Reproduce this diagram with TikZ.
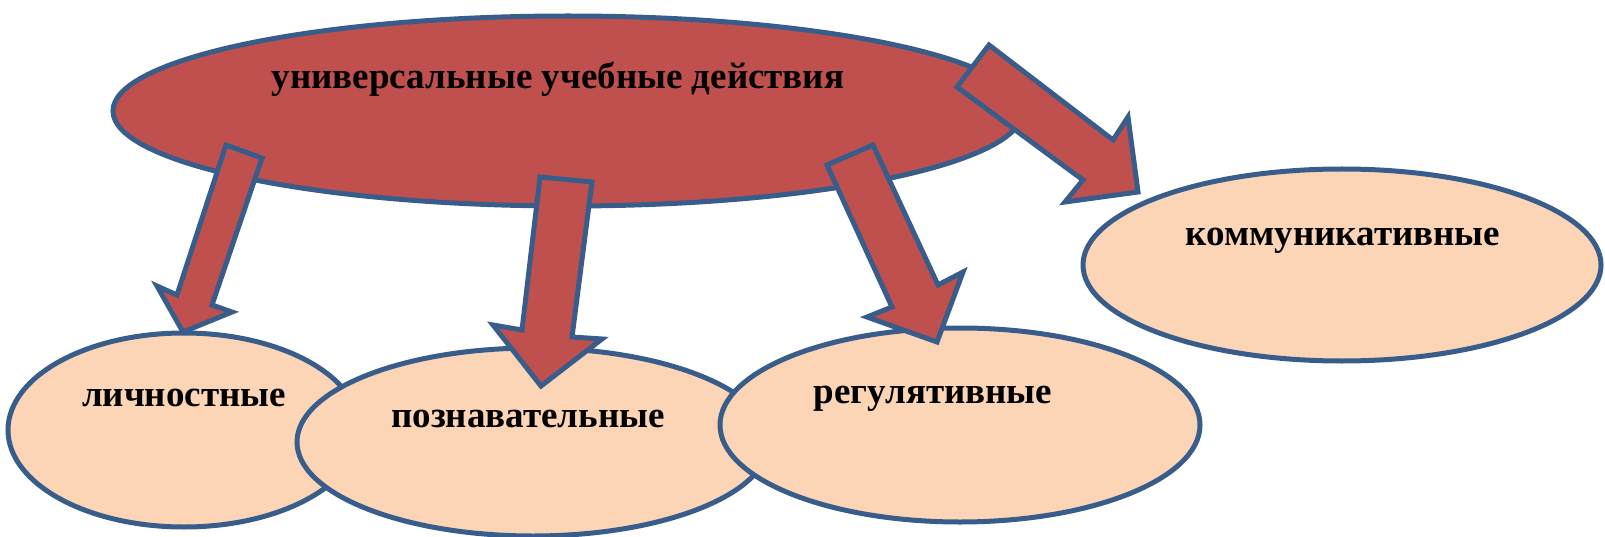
\documentclass[tikz,border=0pt]{standalone}
\usepackage{fontspec}
\setmainfont{Liberation Serif}
\usetikzlibrary{shapes.geometric}
\definecolor{redfill}{HTML}{C0504D}
\definecolor{bluestroke}{HTML}{385D8A}
\definecolor{peach}{HTML}{FBD5B5}
\tikzset{
  oval/.style={ellipse, draw=bluestroke, line width=5pt, inner sep=0pt},
  mainoval/.style={oval, fill=redfill},
  suboval/.style={oval, fill=peach},
  blockarrow/.style={draw=bluestroke, fill=redfill, line width=5pt, line join=miter},
  lbl/.style={font=\bfseries\fontsize{37}{40}\selectfont, anchor=base, inner sep=0pt}
}
\begin{document}
\begin{tikzpicture}[x=1pt,y=-1pt]
\useasboundingbox (0,0) rectangle (1605,537);
\node[mainoval, minimum width=910pt, minimum height=190pt] (uud) at (568,111) {};
\node[suboval, minimum width=352pt, minimum height=194pt] (lich) at (184,430) {};
\node[suboval, minimum width=472pt, minimum height=188pt] (pozn) at (533,442) {};
\node[suboval, minimum width=480pt, minimum height=194pt] (reg) at (960,425) {};
\node[suboval, minimum width=518pt, minimum height=192pt] (komm) at (1342,265) {};
% block arrows
\draw[blockarrow] (226,145) -- (262,158) -- (212,305) -- (232,312) -- (183,332) -- (157,286) -- (177,295) -- cycle;
\draw[blockarrow] (540,177) -- (592,182) -- (572,337) -- (602,339) -- (541,386) -- (493,325) -- (522,330) -- cycle;
\draw[blockarrow] (827,165) -- (873,145) -- (938,285) -- (963,272) -- (937,342) -- (867,317) -- (892,307) -- cycle;
\draw[blockarrow] (989,45) -- (1113,140) -- (1128,117) -- (1138,192) -- (1065,202) -- (1083,180) -- (957,87) -- cycle;
% labels
\node[lbl] (tuud) at (558,89) {универсальные учебные действия};
\node[lbl] (tlich) at (184,406) {личностные};
\node[lbl] (tpozn) at (528,427) {познавательные};
\node[lbl] (treg) at (933,403) {регулятивные};
\node[lbl] (tkomm) at (1343,246) {коммуникативные};
\end{tikzpicture}
\end{document}
